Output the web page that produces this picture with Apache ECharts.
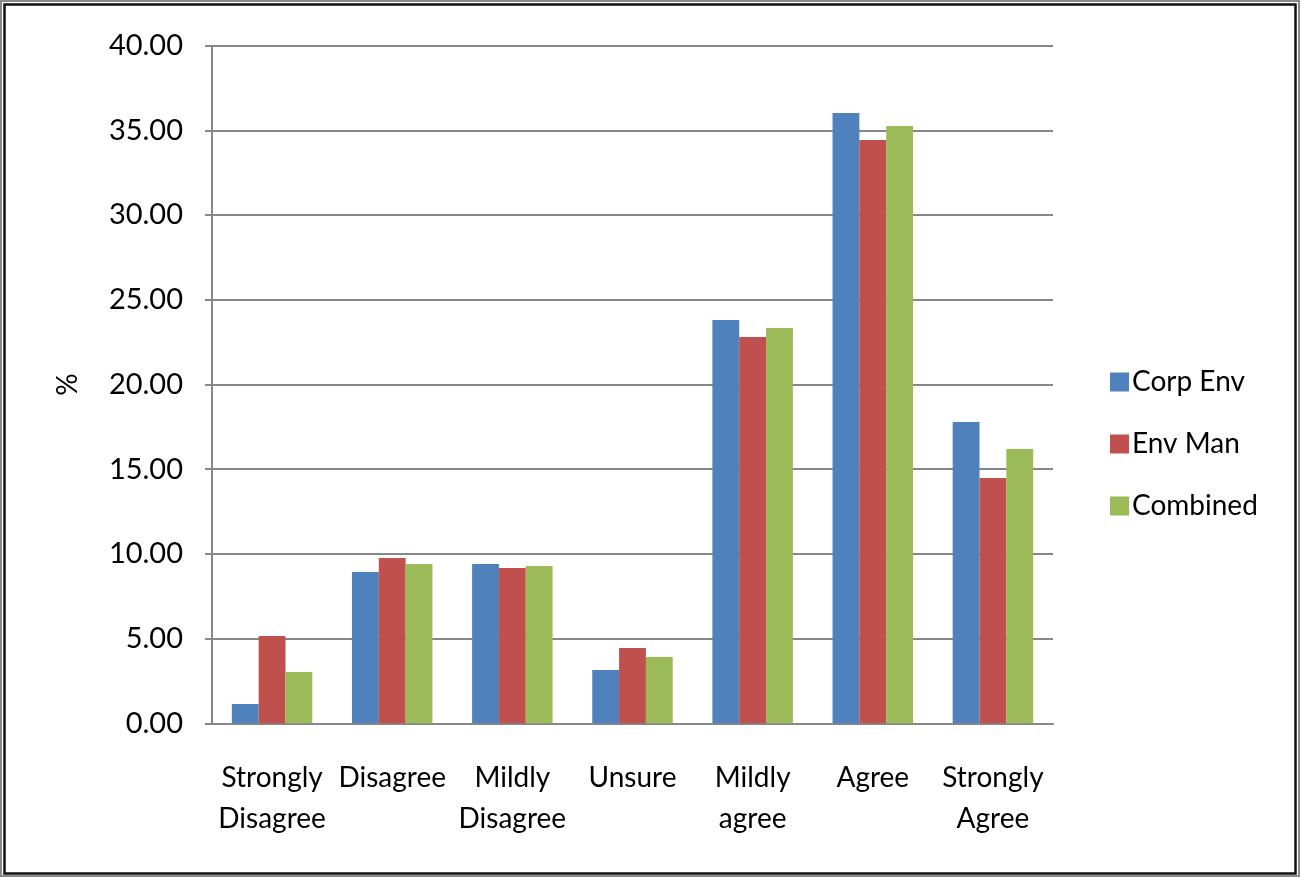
<!DOCTYPE html>
<html>
<head>
<meta charset="utf-8">
<title>Survey responses by group</title>
<script src="https://cdn.jsdelivr.net/npm/echarts@6/dist/echarts.min.js"></script>
<style>
  html, body { margin: 0; padding: 0; background: #ffffff; }
  #chart { width: 1301px; height: 878px; }
</style>
</head>
<body>
<div id="chart"></div>
<script>
// Response categories on the agreement scale
const categories = ['Strongly\nDisagree', 'Disagree', 'Mildly\nDisagree', 'Unsure', 'Mildly\nagree', 'Agree', 'Strongly\nAgree'];

// Percentage of respondents per category
const corpEnv  = [1.14, 8.93, 9.40, 3.15, 23.81, 36.03, 17.79];
const envMan   = [5.15, 9.76, 9.17, 4.45, 22.80, 34.43, 14.48];
const combined = [3.03, 9.40, 9.29, 3.91, 23.34, 35.26, 16.19];

const seriesNames = ['Corp Env', 'Env Man', 'Combined'];
const seriesColors = ['#4F81BD', '#C0504D', '#9BBB59'];

const FONT = 'Lato';
const AXIS_GRAY = '#878787';

const chart = echarts.init(document.getElementById('chart'), null, { renderer: 'canvas' });

const option = {
  backgroundColor: '#ffffff',
  animation: false,
  textStyle: { fontFamily: FONT, color: '#000' },
  graphic: [
    { type: 'rect', silent: true, shape: { x: 1, y: 1, width: 1298, height: 875 },
      style: { fill: 'none', stroke: '#8a8a8a', lineWidth: 2 } },
    { type: 'rect', silent: true, shape: { x: 4.5, y: 4.5, width: 1291, height: 869 },
      style: { fill: 'none', stroke: '#111', lineWidth: 2.5 } }
  ],
  grid: { left: 212, right: 248, top: 45.7, bottom: 154.7, containLabel: false },
  legend: {
    orient: 'vertical',
    left: 1105,
    top: 363,
    itemWidth: 19,
    itemHeight: 19,
    itemGap: 34,
    icon: 'rect',
    data: seriesNames,
    textStyle: { fontFamily: FONT, fontSize: 28, color: '#000', padding: [0, 0, 0, -2] }
  },
  xAxis: {
    type: 'category',
    data: categories,
    axisLine: { lineStyle: { color: AXIS_GRAY, width: 2 } },
    axisTick: { length: 10, lineStyle: { color: AXIS_GRAY, width: 2 } },
    axisLabel: {
      interval: 0,
      margin: 34,
      fontFamily: FONT,
      fontSize: 28,
      lineHeight: 41,
      color: '#000'
    }
  },
  yAxis: {
    type: 'value',
    min: 0,
    max: 40,
    interval: 5,
    name: '%',
    nameLocation: 'middle',
    nameRotate: 90,
    nameGap: 130,
    nameTextStyle: { fontFamily: FONT, fontSize: 28, color: '#000' },
    axisLine: { show: true, lineStyle: { color: AXIS_GRAY, width: 2 } },
    axisTick: { show: true, length: 7, lineStyle: { color: AXIS_GRAY, width: 2 } },
    splitLine: { show: true, lineStyle: { color: AXIS_GRAY, width: 2 } },
    axisLabel: {
      margin: 29,
      fontFamily: FONT,
      fontSize: 29,
      color: '#000',
      formatter: v => v.toFixed(2)
    }
  },
  series: [
    { name: seriesNames[0], type: 'bar', data: corpEnv, itemStyle: { color: seriesColors[0] },
      barGap: '0%', barCategoryGap: '33%' },
    { name: seriesNames[1], type: 'bar', data: envMan, itemStyle: { color: seriesColors[1] },
      barGap: '0%', barCategoryGap: '33%' },
    { name: seriesNames[2], type: 'bar', data: combined, itemStyle: { color: seriesColors[2] },
      barGap: '0%', barCategoryGap: '33%' }
  ]
};

chart.setOption(option);
</script>
</body>
</html>
